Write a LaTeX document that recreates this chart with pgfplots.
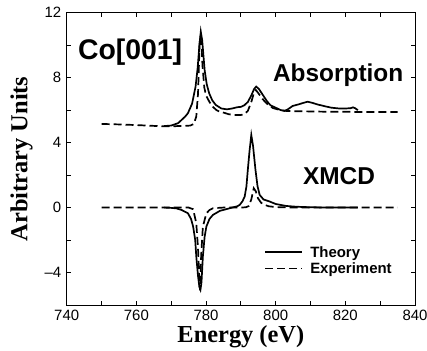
\documentclass[border=0pt]{standalone}
\usepackage{pgfplots}
\pgfplotsset{compat=1.18}
\usepackage{fontspec}
\setmainfont{Liberation Sans}
\newfontfamily\timesfont{Liberation Serif}
\begin{document}
\begin{tikzpicture}
\useasboundingbox (-66.7bp,-46bp) rectangle (360.3bp,305bp);
\begin{axis}[
  at={(0,0)}, anchor=south west,
  scale only axis, width=348.3bp, height=292.3bp,
  xmin=740, xmax=840, ymin=-6, ymax=12,
  xtick={740,760,...,840},
  ytick={-4,0,4,8,12}, yticklabels={--4,0,4,8,12},
  minor xtick={750,770,...,830},
  minor ytick={-2,2,6,10},
  tick align=inside,
  major tick length=4bp, minor tick length=4bp,
  axis line style={line width=1bp},
  every tick/.style={line width=0.8bp, black},
  /pgf/number format/assume math mode=true,
  /pgf/number format/1000 sep={},
  ticklabel style={font=\fontsize{15}{15}\selectfont},
  yticklabel style={xshift=-2bp},
  xticklabel style={yshift=-1.5bp},
  xlabel={\timesfont\bfseries Energy (eV)},
  ylabel={\timesfont\bfseries Arbitrary Units},
  label style={font=\fontsize{24.5}{24.5}\selectfont},
  xlabel style={at={(axis description cs:0.5,-0.1266)}, anchor=base, inner sep=0pt},
  ylabel style={at={(axis description cs:-0.113,0.5)}, anchor=base, inner sep=0pt},
  legend style={draw=none, fill=none, at={(axis cs:795.9,-2.12)}, anchor=north west,
    font=\bfseries\fontsize{15}{19}\selectfont, cells={anchor=west},
    /tikz/every odd column/.append style={column sep=5bp}},
  legend image code/.code={\draw[#1] (0bp,0bp) -- (37bp,0bp);},
  every axis plot/.append style={line width=1.7bp, black},
]
% Theory absorption
\addplot[solid] coordinates {
(768,5.02)(770,5.05)(772,5.2)(773,5.4)(774,5.6)(774.8,5.81)(776,6.4)(777,7.45)
(777.6,8.6)(778.1,10.0)(778.5,10.83)(778.9,10.3)(779.6,8.47)(780.2,7.6)(780.9,7.04)
(781.8,6.6)(782.8,6.32)(784.4,6.1)(786,6.05)(787.5,6.1)(789,6.18)(790,6.2)(791,6.3)
(792,6.5)(793,6.9)(793.8,7.3)(794.4,7.45)(795.2,7.3)(796.3,6.94)(797.5,6.55)(798.5,6.3)
(800,6.15)(801.5,6.0)(802.5,5.95)(803.5,6.05)(804.9,6.26)(806.5,6.35)(808,6.45)
(809.2,6.52)(810.5,6.45)(812,6.35)(814.5,6.22)(816,6.15)(818.3,6.1)(820,6.1)
(821.5,6.12)(822.2,6.17)(822.8,6.12)(823.6,6.0)};
\addlegendentry{Theory}
% Experiment absorption
\addplot[dash pattern=on 8bp off 4bp] coordinates {
(750,5.15)(755,5.12)(760,5.08)(765,5.03)(768,5.0)(770,5.0)(772,5.02)(774,5.03)
(775.5,5.05)(776.5,5.15)(777.2,5.6)(777.7,7.0)(778.0,9.0)(778.2,10.3)(778.4,10.5)
(778.7,10.0)(779.0,8.7)(779.5,7.4)(780,6.9)(781,6.5)(782,6.2)(783,6.0)(784,5.9)
(785,5.85)(786.5,5.75)(788,5.7)(790,5.7)(791,5.75)(792,5.95)(793,6.5)(793.8,7.1)
(794.3,7.24)(795,7.05)(796,6.75)(797,6.5)(798,6.3)(799.2,6.13)(801,6.02)(803,5.95)
(806,5.93)(810,5.92)(815,5.9)(820,5.9)(825,5.88)(830,5.88)(835,5.88)};
\addlegendentry{Experiment}
% Theory XMCD
\addplot[solid, forget plot] coordinates {
(768,0)(770,-0.02)(771.5,-0.05)(773,-0.15)(774.8,-0.35)(775.7,-0.7)(776.3,-1.17)
(776.9,-2.0)(777.2,-3.0)(777.7,-4.2)(778.1,-4.9)(778.4,-5.06)(778.7,-4.6)(779.1,-3.0)
(779.6,-1.8)(780.1,-1.17)(781,-0.7)(782,-0.45)(784,-0.2)(785.8,-0.1)(787.5,0.0)
(789,0.08)(789.7,0.17)(790.5,0.4)(791.1,0.68)(791.6,1.3)(792,2.32)(792.5,3.5)
(793,4.47)(793.5,3.8)(794.2,2.32)(794.8,1.3)(795.4,0.78)(796.5,0.5)(798.3,0.37)
(800,0.22)(803,0.1)(806,0.05)(810,0.02)(815,0.0)(820,0.0)(823.6,0.0)};
% Experiment XMCD
\addplot[dash pattern=on 8bp off 4bp, forget plot] coordinates {
(750,0)(760,0)(770,0)(775,0)(776.3,-0.1)(777.2,-0.96)(777.7,-2.5)(778.0,-4.0)
(778.3,-5.1)(778.6,-3.0)(779.1,-1.17)(780.1,-0.35)(781,-0.15)(782,-0.04)(785,0)
(790,0)(791.5,0.02)(792.3,0.1)(793,0.5)(793.7,1.19)(794.3,1.0)(794.9,0.58)
(795.8,0.3)(796.8,0.17)(798,0.08)(800,0.03)(805,0)(810,0)(820,0)(835,0)};
\node[anchor=base west, inner sep=0pt, font=\bfseries\fontsize{28.5}{28.5}\selectfont] at (axis cs:743.2,9.13) {Co[001]};
\node[anchor=base west, inner sep=0pt, font=\bfseries\fontsize{24.5}{24.5}\selectfont] at (axis cs:799.2,7.75) {Absorption};
\node[anchor=base west, inner sep=0pt, font=\bfseries\fontsize{24.5}{24.5}\selectfont] at (axis cs:807.8,1.4) {XMCD};
\end{axis}
\end{tikzpicture}
\end{document}
